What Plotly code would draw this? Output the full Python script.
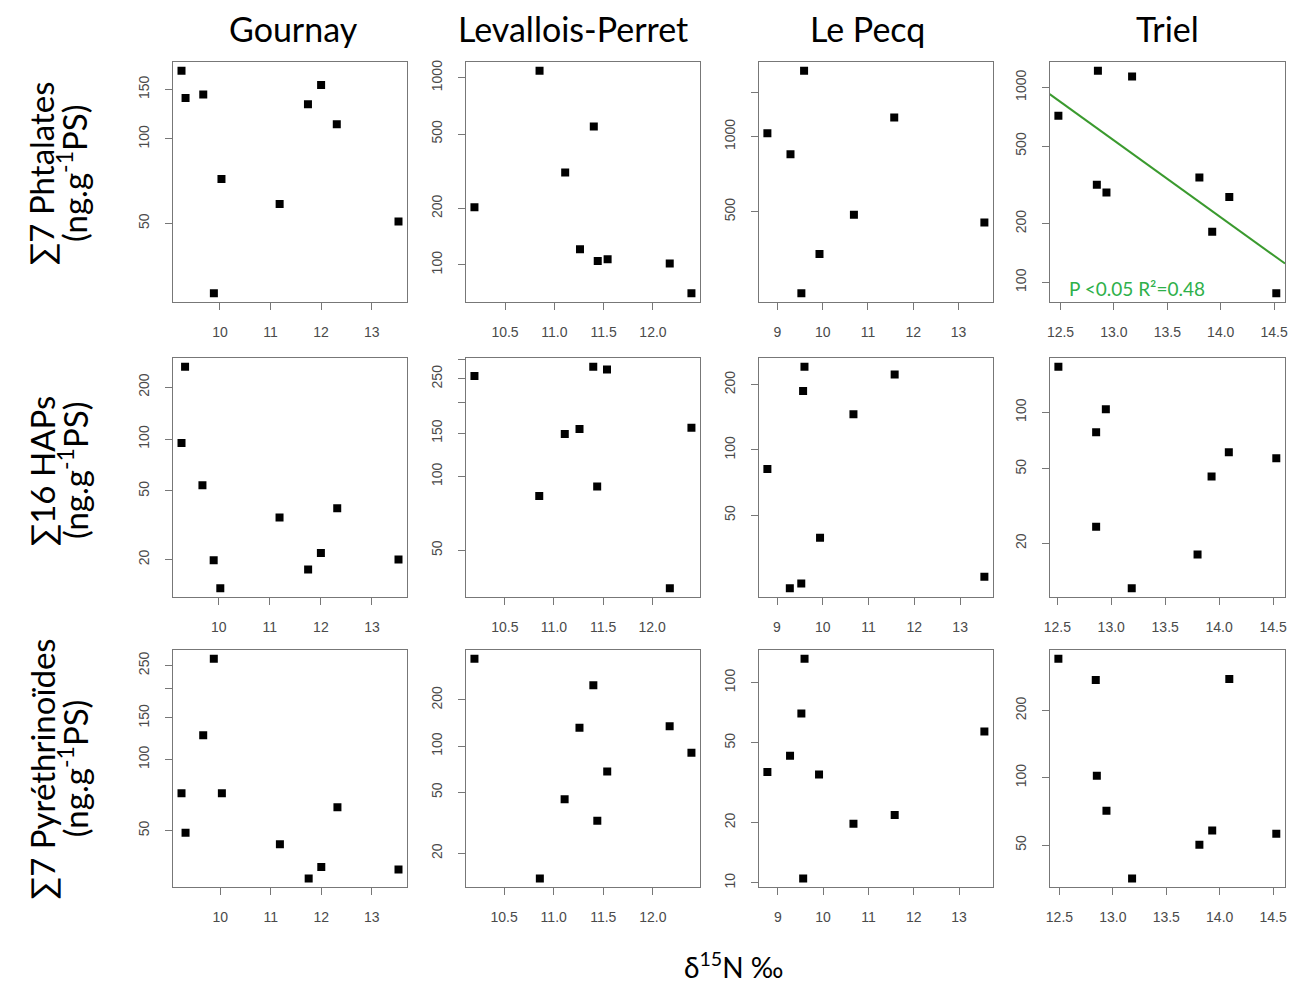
import numpy as np
import plotly.graph_objects as go

# ---------------- data ----------------
sites = ["Gournay", "Levallois-Perret", "Le Pecq", "Triel"]
row_labels = ["∑7 Phtalates", "∑16 HAPs", "∑7 Pyréthrinoïdes"]
unit_label = "(ng.g<sup>-1</sup>PS)"
x_title = "δ<sup>15</sup>N ‰"
fit_label = "P <0.05 R²=0.48"

# Gournay
gou_pht_x = [9.24, 9.32, 9.67, 9.88, 10.03, 11.18, 11.74, 12.00, 12.31, 13.53]
gou_pht_y = [175, 140, 144, 28.2, 72, 58.6, 133, 155.6, 112.8, 50.8]
gou_hap_x = [9.27, 9.34, 9.68, 9.90, 10.03, 11.19, 11.75, 12.00, 12.32, 13.52]
gou_hap_y = [94.8, 263, 54, 19.8, 13.6, 35, 17.5, 21.8, 39.7, 20.0]
gou_pyr_x = [9.23, 9.31, 9.66, 9.87, 10.03, 11.18, 11.75, 12.00, 12.32, 13.53]
gou_pyr_y = [72, 48.9, 126.6, 267, 72, 43.7, 31.3, 35, 62.7, 34.2]

# Levallois-Perret
lev_pht_x = [10.19, 10.85, 11.11, 11.26, 11.40, 11.44, 11.54, 12.17, 12.39]
lev_pht_y = [203, 1090, 311, 121, 548, 104.7, 107, 101.6, 70.5]
lev_hap_x = [10.19, 10.85, 11.11, 11.26, 11.40, 11.44, 11.54, 12.18, 12.40]
lev_hap_y = [257, 83.2, 149, 156, 280, 91, 273, 35, 158]
lev_pyr_x = [10.20, 10.86, 11.11, 11.26, 11.40, 11.44, 11.54, 12.17, 12.39]
lev_pyr_y = [371, 13.7, 45, 132, 249, 32.6, 68.3, 135, 90.6]

# Le Pecq
lep_pht_x = [8.78, 9.29, 9.53, 9.59, 9.93, 10.69, 11.58, 13.57]
lep_pht_y = [1031, 849, 236, 1836, 339, 486, 1192, 453]
lep_hap_x = [8.79, 9.28, 9.53, 9.57, 9.60, 9.94, 10.67, 11.57, 13.53]
lep_hap_y = [81.8, 23, 24.2, 187, 242, 39.4, 146, 223, 26]
lep_pyr_x = [8.77, 9.27, 9.52, 9.59, 9.56, 9.91, 10.67, 11.58, 13.56]
lep_pyr_y = [35.8, 43.1, 70, 131.5, 10.5, 34.7, 19.7, 21.8, 56.9]

# Triel
tri_pht_x = [12.48, 12.85, 12.84, 12.93, 13.17, 13.80, 13.92, 14.08, 14.52]
tri_pht_y = [716, 1218, 317, 289, 1139, 345, 182, 274, 88]
tri_hap_x = [12.51, 12.86, 12.95, 12.86, 13.19, 13.80, 13.93, 14.09, 14.53]
tri_hap_y = [175, 78.2, 103.8, 24.5, 11.5, 17.4, 45.4, 61.2, 56.8]
tri_pyr_x = [12.49, 12.84, 12.85, 12.94, 13.18, 13.81, 13.93, 14.09, 14.53]
tri_pyr_y = [341, 274, 102, 71.1, 35.4, 50.1, 58, 277, 56.2]

# tick values
x_ticks = {
    "Gournay": [10, 11, 12, 13],
    "Levallois-Perret": [10.5, 11.0, 11.5, 12.0],
    "Le Pecq": [9, 10, 11, 12, 13],
    "Triel": [12.5, 13.0, 13.5, 14.0, 14.5],
}
x_tick_text = {
    "Gournay": ["10", "11", "12", "13"],
    "Levallois-Perret": ["10.5", "11.0", "11.5", "12.0"],
    "Le Pecq": ["9", "10", "11", "12", "13"],
    "Triel": ["12.5", "13.0", "13.5", "14.0", "14.5"],
}
# labelled y ticks
y_ticks = [
    [[50, 100, 150], [100, 200, 500, 1000], [500, 1000], [100, 200, 500, 1000]],
    [[20, 50, 100, 200], [50, 100, 150, 250], [50, 100, 200], [20, 50, 100]],
    [[50, 100, 150, 250], [20, 50, 100, 200], [10, 20, 50, 100], [50, 100, 200]],
]
# y ticks drawn without a label (label dropped for overlap, as in R)
y_ticks_unlabelled = [
    [[], [], [1500], []],
    [[], [200, 300], [], []],
    [[200], [], [], []],
]

panels = [
    [(gou_pht_x, gou_pht_y), (lev_pht_x, lev_pht_y), (lep_pht_x, lep_pht_y), (tri_pht_x, tri_pht_y)],
    [(gou_hap_x, gou_hap_y), (lev_hap_x, lev_hap_y), (lep_hap_x, lep_hap_y), (tri_hap_x, tri_hap_y)],
    [(gou_pyr_x, gou_pyr_y), (lev_pyr_x, lev_pyr_y), (lep_pyr_x, lep_pyr_y), (tri_pyr_x, tri_pyr_y)],
]

# ---------------- layout geometry (page pixels) ----------------
FW, FH = 1290, 983
col_left = [168, 463, 758, 1051]
col_right = [404, 699, 994, 1288]
row_top = [60, 357, 650]
row_bottom = [301, 597, 888]
title_center = [290, 571, 868, 1170]
row_center = [172, 470, 769]


def px(x):
    return x / FW


def py(y):
    return 1 - y / FH


AXIS_COL = "#777777"
TICK_FONT = dict(family="Liberation Sans, Arial", size=14, color="#4a4a4a")
TITLE_FONT = "Lato, Open Sans, sans-serif"


def pad_range(vals, log=False):
    v = np.log10(vals) if log else np.asarray(vals, dtype=float)
    lo, hi = float(np.min(v)), float(np.max(v))
    d = (hi - lo) * 0.04
    return [lo - d, hi + d]


fig = go.Figure()
layout = dict(
    width=FW, height=FH, margin=dict(l=0, r=0, t=0, b=0),
    paper_bgcolor="white", plot_bgcolor="white", showlegend=False,
)

annotations = []
for r in range(3):
    for c in range(4):
        k = r * 4 + c + 1
        xs, ys = panels[r][c]
        xa = "xaxis" if k == 1 else f"xaxis{k}"
        ya = "yaxis" if k == 1 else f"yaxis{k}"
        xref = "x" if k == 1 else f"x{k}"
        yref = "y" if k == 1 else f"y{k}"
        xr = pad_range(xs)
        yr = pad_range(ys, log=True)
        layout[xa] = dict(
            domain=[px(col_left[c]), px(col_right[c])], anchor=yref,
            range=xr, showgrid=False, zeroline=False,
            showline=True, mirror=True, linecolor=AXIS_COL, linewidth=1.3,
            ticks="outside", ticklen=7, tickwidth=1.2, tickcolor=AXIS_COL,
            tickmode="array", tickvals=x_ticks[sites[c]], ticktext=x_tick_text[sites[c]],
            tickfont=TICK_FONT, ticklabelstandoff=10, ticklabeloverflow="allow",
        )
        ydict = dict(
            domain=[py(row_bottom[r]), py(row_top[r])], anchor=xref,
            type="log", range=yr, showgrid=False, zeroline=False,
            showline=True, mirror=True, linecolor=AXIS_COL, linewidth=1.3,
            ticks="outside", ticklen=7, tickwidth=1.2, tickcolor=AXIS_COL,
            tickmode="array", tickvals=y_ticks[r][c],
            ticktext=[str(v) for v in y_ticks[r][c]],
            tickfont=TICK_FONT, tickangle=-90, ticklabelstandoff=10,
        )
        if y_ticks_unlabelled[r][c]:
            ydict["minor"] = dict(
                tickmode="array", tickvals=y_ticks_unlabelled[r][c],
                ticks="outside", ticklen=7, tickwidth=1.2, tickcolor=AXIS_COL,
                showgrid=False,
            )
        layout[ya] = ydict
        fig.add_trace(go.Scatter(
            x=xs, y=ys, mode="markers", xaxis=xref, yaxis=yref,
            marker=dict(symbol="square", size=8, color="black"),
            hoverinfo="x+y",
        ))
        if r == 0 and c == 3:
            slope, intercept = np.polyfit(xs, np.log10(ys), 1)
            lx = np.array(xr)
            fig.add_trace(go.Scatter(
                x=lx, y=10 ** (intercept + slope * lx), mode="lines",
                xaxis=xref, yaxis=yref, line=dict(color="#3a9a2e", width=2),
                hoverinfo="skip",
            ))
            annotations.append(dict(
                text=fit_label, xref=f"{xref} domain", yref=f"{yref} domain",
                x=0.075, y=0.055, xanchor="left", yanchor="middle", showarrow=False,
                font=dict(family=TITLE_FONT, size=19, color="#2eb04a"),
            ))

# column titles
for c, s in enumerate(sites):
    annotations.append(dict(
        text=s, xref="paper", yref="paper",
        x=px(title_center[c]), y=py(27),
        xanchor="center", yanchor="middle", showarrow=False,
        font=dict(family=TITLE_FONT, size=34, color="black"),
    ))

# row labels
for r, lab in enumerate(row_labels):
    annotations.append(dict(
        text=lab, xref="paper", yref="paper", x=px(36), y=py(row_center[r]),
        xanchor="center", yanchor="middle", textangle=-90, showarrow=False,
        font=dict(family=TITLE_FONT, size=33, color="black"),
    ))
    annotations.append(dict(
        text=unit_label, xref="paper", yref="paper", x=px(67), y=py(row_center[r]),
        xanchor="center", yanchor="middle", textangle=-90, showarrow=False,
        font=dict(family=TITLE_FONT, size=33, color="black"),
    ))

annotations.append(dict(
    text=x_title, xref="paper", yref="paper", x=px(733), y=py(966),
    xanchor="center", yanchor="middle", showarrow=False,
    font=dict(family=TITLE_FONT, size=28, color="black"),
))

layout["annotations"] = annotations
fig.update_layout(**layout)

# remove the page's default body margin so the figure fills the window exactly
reset_page = (
    "document.body.style.margin='0';"
    "document.body.style.overflow='hidden';"
    "document.documentElement.style.overflow='hidden';"
)
fig.write_html("out.html", post_script=reset_page,
               config={"displayModeBar": False})
